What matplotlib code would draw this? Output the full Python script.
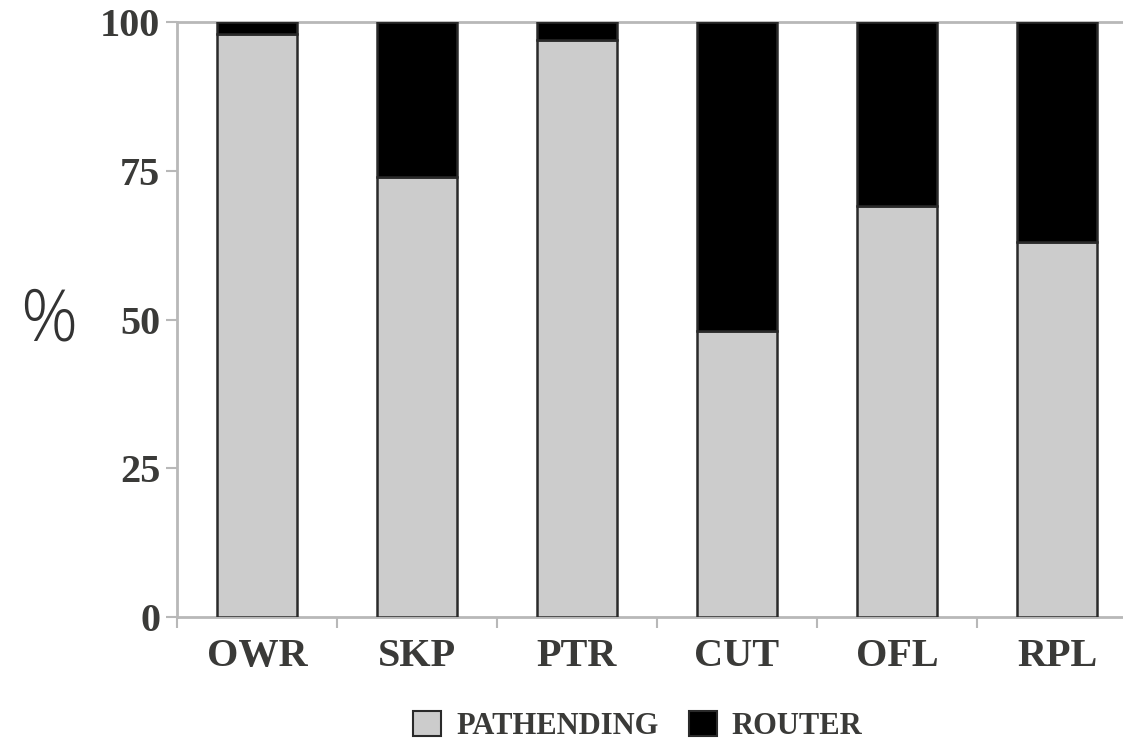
import numpy as np
import matplotlib.pyplot as plt
from matplotlib.patches import Patch

# data
categories = ['OWR', 'SKP', 'PTR', 'CUT', 'OFL', 'RPL']
pathending = [98, 74, 97, 48, 69, 63]
router = [2, 26, 3, 52, 31, 37]
yticks = [0, 25, 50, 75, 100]

grey = '#cccccc'
txt = '#3a3a38'
axcol = '#b8b8b8'

fig = plt.figure(figsize=(11.23, 7.43), dpi=100)
ax = fig.add_axes([177 / 1123, 126 / 743, 960 / 1123, 595 / 743])

x = np.arange(len(categories))
ax.bar(x, pathending, width=0.5, color=grey, edgecolor='#2a2a2a', linewidth=1.8, zorder=3)
ax.bar(x, router, width=0.5, bottom=pathending, color='black', edgecolor='#2a2a2a', linewidth=1.8, zorder=3)

ax.set_xlim(-0.5, len(categories) - 0.5)
ax.set_ylim(0, 100)

for s in ['left', 'bottom', 'top']:
    ax.spines[s].set_color(axcol)
    ax.spines[s].set_linewidth(2)
ax.spines['right'].set_visible(False)

ax.set_yticks(yticks)
ax.set_yticklabels([str(v) for v in yticks])
ax.set_xticks(x)
ax.set_xticklabels(categories)
ax.set_xticks(np.arange(len(categories) + 1) - 0.5, minor=True)
ax.tick_params(axis='x', which='major', length=0, pad=15)
ax.tick_params(axis='x', which='minor', length=8, width=1.5, color=axcol, direction='out')
ax.tick_params(axis='y', length=8, width=1.5, color=axcol, pad=4)

for lab in ax.get_xticklabels() + ax.get_yticklabels():
    lab.set_family('Liberation Serif')
    lab.set_weight('bold')
    lab.set_fontsize(29)
    lab.set_color(txt)

fig.text(49 / 1123, 1 - 322 / 743, '%', family='Open Sans', fontsize=51,
         color='#333333', ha='center', va='center', fontweight='light')

handles = [Patch(facecolor=grey, edgecolor='#2a2a2a', linewidth=1.5, label='PATHENDING'),
           Patch(facecolor='black', edgecolor='#2a2a2a', linewidth=1.5, label='ROUTER')]
leg = fig.legend(handles=handles, loc='center', bbox_to_anchor=(638 / 1123, 1 - 726 / 743),
                 ncol=2, frameon=False, handlelength=0.9, handleheight=0.9,
                 handletextpad=0.5, columnspacing=1.0,
                 prop={'family': 'Liberation Serif', 'weight': 'bold', 'size': 22})
for t in leg.get_texts():
    t.set_color(txt)

fig.savefig('out.png', dpi=100)
